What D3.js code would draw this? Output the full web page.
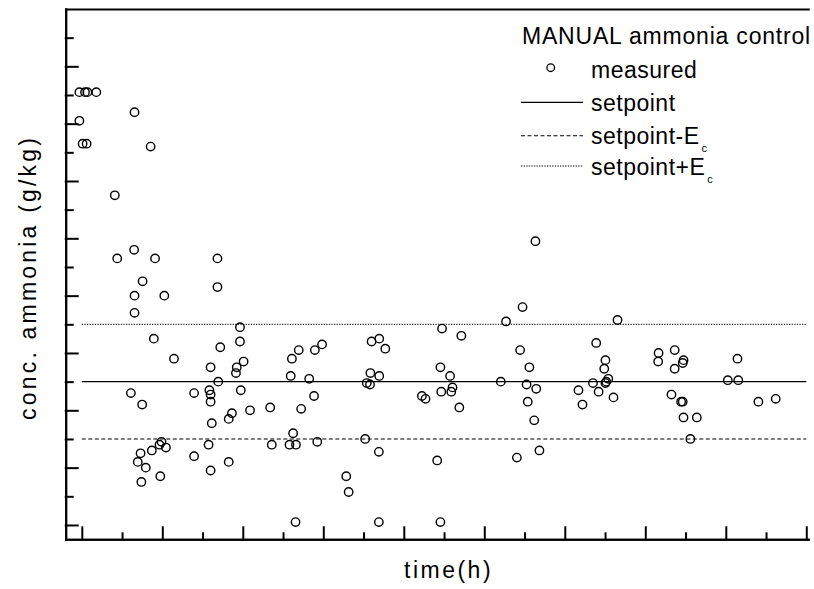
<!DOCTYPE html>
<html>
<head>
<meta charset="utf-8">
<script src="https://cdn.jsdelivr.net/npm/d3@7"></script>
<style>
  body { margin: 0; background: #fff; }
  svg { display: block; }
  text { font-family: "Liberation Sans", Arial, sans-serif; fill: #000; }
</style>
</head>
<body>
<svg width="814" height="589"></svg>
<script>
// time in h (one tick = 1 h), conc. in g/kg (one tick = 0.1) -- no tick labels on the original
var timeH = [-0.06, 0.08, 0.14, 0.36, 1.31, -0.06, 0.02, 0.12, 1.71, 0.82,
  1.30, 0.88, 1.82, 1.51, 1.31, 2.05, 1.31, 1.79, 2.29, 1.22,
  1.50, 1.98, 1.93, 2.09, 1.74, 1.46, 1.39, 1.59, 1.48, 1.95,
  2.79, 2.79, 3.15, 3.20, 3.20, 3.17, 3.20, 3.20, 3.23, 3.37,
  3.37, 3.39, 3.44, 3.93, 3.93, 4.02, 3.85, 3.83, 3.95, 4.18,
  3.73, 3.65, 3.65, 4.68, 4.72, 5.19, 5.22, 5.39, 5.79, 5.97,
  5.65, 5.77, 5.45, 5.25, 5.16, 5.32, 5.85, 6.57, 6.63, 5.31,
  7.04, 7.38, 7.38, 7.20, 7.39, 7.54, 7.17, 7.39, 7.08, 7.16,
  8.95, 9.43, 8.91, 9.15, 9.21, 9.18, 8.93, 9.38, 8.45, 8.54,
  8.83, 8.91, 10.41, 10.54, 10.95, 11.27, 10.89, 11.12, 11.05, 11.29,
  11.08, 11.24, 11.37, 10.81, 13.31, 12.78, 13.01, 12.98, 13.08, 13.01,
  13.03, 12.70, 12.84, 12.34, 12.44, 13.21, 14.33, 14.32, 14.73, 14.95,
  14.93, 14.73, 14.65, 14.89, 14.93, 14.95, 15.28, 15.12, 16.29, 16.05,
  16.31, 16.81, 17.24];
var concGkg = [1.51, 1.51, 1.51, 1.51, 1.44, 1.41, 1.33, 1.33, 1.32, 1.15,
  0.96, 0.93, 0.93, 0.85, 0.80, 0.80, 0.74, 0.65, 0.58, 0.46,
  0.42, 0.29, 0.28, 0.27, 0.26, 0.25, 0.22, 0.20, 0.15, 0.17,
  0.46, 0.24, 0.28, 0.19, 0.55, 0.47, 0.455, 0.43, 0.355, 0.93,
  0.83, 0.50, 0.62, 0.69, 0.64, 0.57, 0.55, 0.53, 0.47, 0.40,
  0.39, 0.37, 0.22, 0.41, 0.28, 0.52, 0.58, 0.61, 0.61, 0.63,
  0.51, 0.45, 0.405, 0.32, 0.28, 0.28, 0.29, 0.17, 0.115, 0.01,
  0.30, 0.255, 0.01, 0.64, 0.65, 0.615, 0.53, 0.52, 0.495, 0.49,
  0.685, 0.66, 0.55, 0.52, 0.48, 0.465, 0.465, 0.41, 0.45, 0.44,
  0.225, 0.01, 0.50, 0.71, 0.76, 0.99, 0.61, 0.55, 0.49, 0.475,
  0.43, 0.365, 0.26, 0.235, 0.715, 0.635, 0.575, 0.545, 0.51, 0.495,
  0.50, 0.495, 0.465, 0.47, 0.42, 0.445, 0.60, 0.57, 0.61, 0.575,
  0.565, 0.545, 0.455, 0.43, 0.43, 0.375, 0.375, 0.30, 0.58, 0.505,
  0.505, 0.43, 0.44];
var setpoint = 0.5;
var ec = 0.2;
var lineSpan = [0, 18];
var xTicks = d3.range(0, 19);
var yTicks = d3.range(0, 18).map(function(i) { return i / 10; });
var legendTitle = "MANUAL ammonia control";
var legendLabels = ["measured", "setpoint", "setpoint-E", "setpoint+E"];
var xLabel = "time(h)";
var yLabel = "conc. ammonia (g/kg)";

var svg = d3.select("svg");

var x = d3.scaleLinear().domain([-0.4, 18.05]).range([65.7, 808.3]);
var y = d3.scaleLinear().domain([-0.05, 1.8]).range([539.3, 9]);

function styleAxis(g) {
  g.selectAll("path, line")
    .attr("stroke", "#000")
    .attr("stroke-width", 2)
    .attr("stroke-linecap", "square");
  g.selectAll("text").remove();
}

// bottom axis, ticks pointing in
svg.append("g")
    .attr("transform", "translate(0," + y.range()[0] + ")")
    .call(d3.axisBottom(x).tickValues(xTicks.filter(function(d) { return d % 2 == 0; }))
      .tickSizeInner(-12).tickSizeOuter(0).tickFormat(""))
    .call(styleAxis);
svg.append("g")
    .attr("transform", "translate(0," + y.range()[0] + ")")
    .call(d3.axisBottom(x).tickValues(xTicks.filter(function(d) { return d % 2 == 1; }))
      .tickSizeInner(-6).tickSizeOuter(0).tickFormat(""))
    .call(styleAxis);

// left axis
svg.append("g")
    .attr("transform", "translate(" + x.range()[0] + ",0)")
    .call(d3.axisLeft(y).tickValues(yTicks.filter(function(d, i) { return i % 2 == 0; }))
      .tickSizeInner(-12).tickSizeOuter(0).tickFormat(""))
    .call(styleAxis);
svg.append("g")
    .attr("transform", "translate(" + x.range()[0] + ",0)")
    .call(d3.axisLeft(y).tickValues(yTicks.filter(function(d, i) { return i % 2 == 1; }))
      .tickSizeInner(-7).tickSizeOuter(0).tickFormat(""))
    .call(styleAxis);

// top frame line
svg.append("g")
    .attr("transform", "translate(0," + y.range()[1] + ")")
    .call(d3.axisTop(x).tickValues([]).tickSizeOuter(0))
    .call(styleAxis);

// setpoint lines
var refLines = [
  {v: setpoint, dash: null, w: 1.2},
  {v: setpoint - ec, dash: "4,2.5", w: 1.1},
  {v: setpoint + ec, dash: "1.3,1.3", w: 1}
];
var line = d3.line().x(function(d) { return x(d[0]); }).y(function(d) { return y(d[1]); });

svg.append("g").selectAll("path")
  .data(refLines)
  .enter().append("path")
    .attr("d", function(d) { return line(lineSpan.map(function(t) { return [t, d.v]; })); })
    .attr("fill", "none")
    .attr("stroke", "#000")
    .attr("stroke-width", function(d) { return d.w; })
    .attr("stroke-dasharray", function(d) { return d.dash; });

// measured points
svg.append("g").selectAll("circle")
  .data(timeH.map(function(t, i) { return [t, concGkg[i]]; }))
  .enter().append("circle")
    .attr("cx", function(d) { return x(d[0]); })
    .attr("cy", function(d) { return y(d[1]); })
    .attr("r", 4.2)
    .attr("fill", "none")
    .attr("stroke", "#000")
    .attr("stroke-width", 1.4);

// axis titles
svg.append("text")
    .attr("x", 404).attr("y", 578)
    .attr("font-size", 23)
    .attr("letter-spacing", 2.5)
    .text(xLabel);

svg.append("text")
    .attr("transform", "translate(36,420) rotate(-90)")
    .attr("font-size", 23)
    .attr("letter-spacing", 3.2)
    .text(yLabel);

// legend
var legend = svg.append("g");
legend.append("text")
    .attr("x", 522).attr("y", 44)
    .attr("font-size", 23)
    .attr("letter-spacing", 0.8)
    .text(legendTitle);

legend.append("circle")
    .attr("cx", 550.7).attr("cy", 67.7).attr("r", 3.8)
    .attr("fill", "none").attr("stroke", "#000").attr("stroke-width", 1.3);

var legendRows = [
  {y: 78, label: legendLabels[0]},
  {y: 111, label: legendLabels[1], ly: 102.3, ref: refLines[0]},
  {y: 144, label: legendLabels[2], ly: 135.7, ref: refLines[1], sub: "c"},
  {y: 175, label: legendLabels[3], ly: 166, ref: refLines[2], sub: "c"}
];

legendRows.forEach(function(r) {
  if (r.ref) {
    legend.append("line")
        .attr("x1", 521).attr("x2", 583)
        .attr("y1", r.ly).attr("y2", r.ly)
        .attr("stroke", "#000")
        .attr("stroke-width", r.ref.w)
        .attr("stroke-dasharray", r.ref.dash);
  }
  var t = legend.append("text")
      .attr("x", 591).attr("y", r.y)
      .attr("font-size", 23)
      .attr("letter-spacing", 0.5)
      .text(r.label);
  if (r.sub) {
    t.append("tspan")
        .attr("dx", 2).attr("dy", 7.5)
        .attr("font-size", 11)
        .attr("letter-spacing", 0)
        .text(r.sub);
  }
});
</script>
</body>
</html>
